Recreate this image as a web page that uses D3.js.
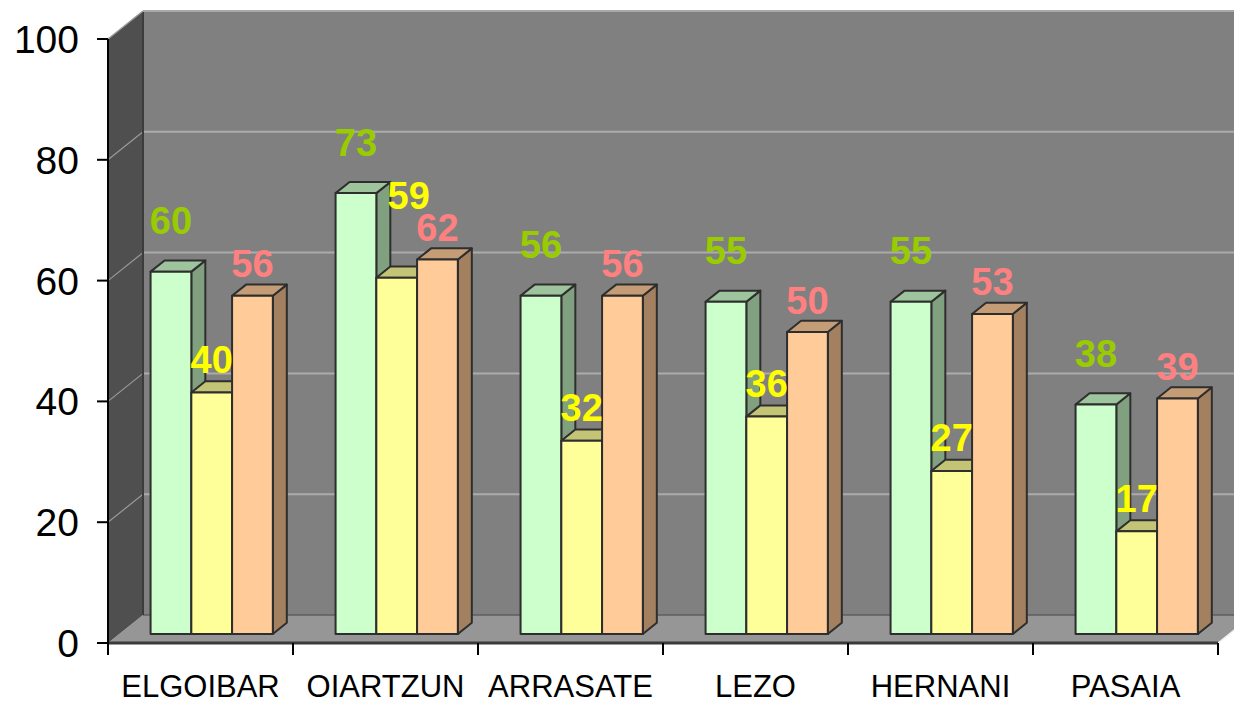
<!DOCTYPE html>
<html>
<head>
<meta charset="utf-8">
<script src="https://cdn.jsdelivr.net/npm/d3@7"></script>
<style>
  body { margin: 0; background: #fff; }
  text { font-family: "Liberation Sans", Arial, sans-serif; }
</style>
</head>
<body>
<div id="chart"></div>
<script>
////////////////////////////////////////////////////////
//////////////////// Data //////////////////////////////
////////////////////////////////////////////////////////

let categories = ["ELGOIBAR", "OIARTZUN", "ARRASATE", "LEZO", "HERNANI", "PASAIA"];
let greenValues = [60, 73, 56, 55, 55, 38];
let yellowValues = [40, 59, 32, 36, 27, 17];
let orangeValues = [56, 62, 56, 50, 53, 39];
let yTicks = [0, 20, 40, 60, 80, 100];

////////////////////////////////////////////////////////
//////////////////// Setup /////////////////////////////
////////////////////////////////////////////////////////

let width = 1234;
let height = 705;

// front plane of the box, depth goes up-right
let frame = ({ left: 108, right: 1218, top: 39, bottom: 643 });
let depth = ({ dx: 35, dy: -28 });
let barZ = [0.32, 0.72];

let series = [
  { key: "green",  values: greenValues,  front: "#CCFFCC", side: "#80A080", top: "#9DC49D", label: "#99CC00", lift: 51 },
  { key: "yellow", values: yellowValues, front: "#FFFF99", side: "#A1A160", top: "#C4C476", label: "#FFFF00", lift: 33 },
  { key: "orange", values: orangeValues, front: "#FFCC99", side: "#A3805F", top: "#C49D76", label: "#FF8080", lift: 32 }
];

let y = d3.scaleLinear()
  .domain([0, 100])
  .range([frame.bottom, frame.top]);

let x0 = d3.scaleBand()
  .domain(categories)
  .range([frame.left, frame.right]);

let x1 = d3.scaleBand()
  .domain(series.map(d => d.key))
  .range([0, x0.bandwidth()])
  .paddingInner(0)
  .paddingOuter(0.77);

// oblique projection: x in front-plane px, v value, z depth 0..1
let pt = function(x, v, z) {
  return [x + depth.dx * z, y(v) + depth.dy * z];
};

let poly = function(points) {
  return "M" + points.map(p => p.join(",")).join("L") + "Z";
};

/////////////////////////////////////////////////////////
//////////////////// Creating the figure ////////////////
/////////////////////////////////////////////////////////

const svg = d3.select("#chart").append("svg")
  .attr("width", width)
  .attr("height", height);

// back wall
svg.append("path")
  .attr("d", poly([pt(frame.left, 0, 1), pt(frame.left, 100, 1), pt(frame.right + 40, 100, 1), pt(frame.right + 40, 0, 1)]))
  .attr("fill", "#808080");

// back wall gridlines
svg.append("g")
  .selectAll("line")
  .data(yTicks.filter(d => d > 0))
  .join("line")
  .attr("x1", pt(frame.left, 0, 1)[0])
  .attr("x2", width)
  .attr("y1", d => pt(0, d, 1)[1])
  .attr("y2", d => pt(0, d, 1)[1])
  .attr("stroke", "#ABABAB")
  .attr("stroke-width", 2);

// floor
svg.append("path")
  .attr("d", poly([pt(frame.left, 0, 0), pt(frame.right, 0, 0), pt(frame.right, 0, 1), pt(frame.left, 0, 1)]))
  .attr("fill", "#969696");

svg.append("line")
  .attr("x1", pt(frame.left, 0, 1)[0])
  .attr("x2", width)
  .attr("y1", pt(0, 0, 1)[1])
  .attr("y2", pt(0, 0, 1)[1])
  .attr("stroke", "#5E5E5E")
  .attr("stroke-width", 1.5);

// floor right edge
svg.append("line")
  .attr("x1", pt(frame.right, 0, 0)[0])
  .attr("y1", pt(frame.right, 0, 0)[1])
  .attr("x2", pt(frame.right, 0, 1)[0])
  .attr("y2", pt(frame.right, 0, 1)[1])
  .attr("stroke", "#EEEEEE")
  .attr("stroke-width", 1.5);

// left wall
svg.append("path")
  .attr("d", poly([pt(frame.left, 0, 0), pt(frame.left, 100, 0), pt(frame.left, 100, 1), pt(frame.left, 0, 1)]))
  .attr("fill", "#4F4F4F");

svg.append("g")
  .selectAll("line")
  .data(yTicks.filter(d => d > 0 && d < 100))
  .join("line")
  .attr("x1", d => pt(frame.left, d, 0)[0])
  .attr("y1", d => pt(frame.left, d, 0)[1])
  .attr("x2", d => pt(frame.left, d, 1)[0])
  .attr("y2", d => pt(frame.left, d, 1)[1])
  .attr("stroke", "#9A9A9A")
  .attr("stroke-width", 1.2);

// wall edges
svg.append("line")
  .attr("x1", pt(frame.left, 0, 1)[0])
  .attr("x2", pt(frame.left, 0, 1)[0])
  .attr("y1", pt(0, 0, 1)[1])
  .attr("y2", pt(0, 100, 1)[1])
  .attr("stroke", "#3C3C3C")
  .attr("stroke-width", 2);

svg.append("line")
  .attr("x1", pt(frame.left, 100, 1)[0])
  .attr("x2", width)
  .attr("y1", pt(0, 100, 1)[1])
  .attr("y2", pt(0, 100, 1)[1])
  .attr("stroke", "#A8A8A8")
  .attr("stroke-width", 2);

svg.append("line")
  .attr("x1", pt(frame.left, 100, 0)[0])
  .attr("y1", pt(frame.left, 100, 0)[1])
  .attr("x2", pt(frame.left, 100, 1)[0])
  .attr("y2", pt(frame.left, 100, 1)[1])
  .attr("stroke", "#9A9A9A")
  .attr("stroke-width", 1.5);

// front floor edge
svg.append("line")
  .attr("x1", frame.left)
  .attr("x2", frame.right)
  .attr("y1", frame.bottom)
  .attr("y2", frame.bottom)
  .attr("stroke", "#3A3A3A")
  .attr("stroke-width", 3);

////////////////////////////////////////////////////////
/////////////////////// Bars ///////////////////////////
////////////////////////////////////////////////////////

const bars = svg.append("g");

categories.forEach((cat, i) => {
  series.forEach(s => {
    const v = s.values[i];
    const xa = x0(cat) + x1(s.key);
    const xb = xa + x1.bandwidth();
    const g = bars.append("g")
      .attr("stroke", "#2E2E2E")
      .attr("stroke-width", 2)
      .attr("stroke-linejoin", "round");

    g.append("path")
      .attr("d", poly([pt(xb, 0, barZ[0]), pt(xb, v, barZ[0]), pt(xb, v, barZ[1]), pt(xb, 0, barZ[1])]))
      .attr("fill", s.side);

    g.append("path")
      .attr("d", poly([pt(xa, v, barZ[0]), pt(xb, v, barZ[0]), pt(xb, v, barZ[1]), pt(xa, v, barZ[1])]))
      .attr("fill", s.top);

    g.append("path")
      .attr("d", poly([pt(xa, 0, barZ[0]), pt(xb, 0, barZ[0]), pt(xb, v, barZ[0]), pt(xa, v, barZ[0])]))
      .attr("fill", s.front);
  });
});

////////////////////////////////////////////////////////
/////////////////////// Axes ///////////////////////////
////////////////////////////////////////////////////////

svg.append("line")
  .attr("x1", frame.left)
  .attr("x2", frame.left)
  .attr("y1", frame.top)
  .attr("y2", frame.bottom + 12)
  .attr("stroke", "#000")
  .attr("stroke-width", 2);

svg.append("g")
  .selectAll("line")
  .data(yTicks)
  .join("line")
  .attr("x1", frame.left - 11)
  .attr("x2", frame.left)
  .attr("y1", d => y(d))
  .attr("y2", d => y(d))
  .attr("stroke", "#000")
  .attr("stroke-width", 2);

svg.append("g")
  .selectAll("text")
  .data(yTicks)
  .join("text")
  .attr("x", 79)
  .attr("y", d => y(d) + 14)
  .attr("text-anchor", "end")
  .attr("font-size", 39)
  .attr("fill", "#000")
  .text(d => d);

let edges = categories.map(c => x0(c)).concat([frame.right]);

svg.append("g")
  .selectAll("line")
  .data(edges)
  .join("line")
  .attr("x1", d => d)
  .attr("x2", d => d)
  .attr("y1", frame.bottom)
  .attr("y2", frame.bottom + 12)
  .attr("stroke", "#000")
  .attr("stroke-width", 2);

svg.append("g")
  .selectAll("text")
  .data(categories)
  .join("text")
  .attr("x", d => x0(d) + x0.bandwidth() / 2)
  .attr("y", 697)
  .attr("text-anchor", "middle")
  .attr("font-size", 31)
  .attr("fill", "#000")
  .text(d => d);

////////////////////////////////////////////////////////
/////////////////////// Labels /////////////////////////
////////////////////////////////////////////////////////

let labelW = 42, labelH = 28;
let labels = [];

categories.forEach((cat, i) => {
  let boxes = [];
  // green and orange first, yellow gets nudged up if it collides
  [0, 2, 1].forEach(k => {
    const s = series[k];
    const v = s.values[i];
    const p = pt(x0(cat) + x1(s.key) + x1.bandwidth() / 2, v, barZ[0]);
    let cx = p[0], cy = p[1] - s.lift;
    boxes.forEach(b => {
      if (Math.abs(b.cx - cx) < labelW && Math.abs(b.cy - cy) < labelH) {
        cy = b.cy - labelH - 4;
        cx = cx + 12;
      }
    });
    boxes.push({ cx, cy });
    labels.push({ cx, cy, text: v, color: s.label });
  });
});

svg.append("g")
  .selectAll("text")
  .data(labels)
  .join("text")
  .attr("x", d => d.cx)
  .attr("y", d => d.cy + 13.5)
  .attr("text-anchor", "middle")
  .attr("font-size", 38)
  .attr("font-weight", "bold")
  .attr("fill", d => d.color)
  .text(d => d.text);
</script>
</body>
</html>
